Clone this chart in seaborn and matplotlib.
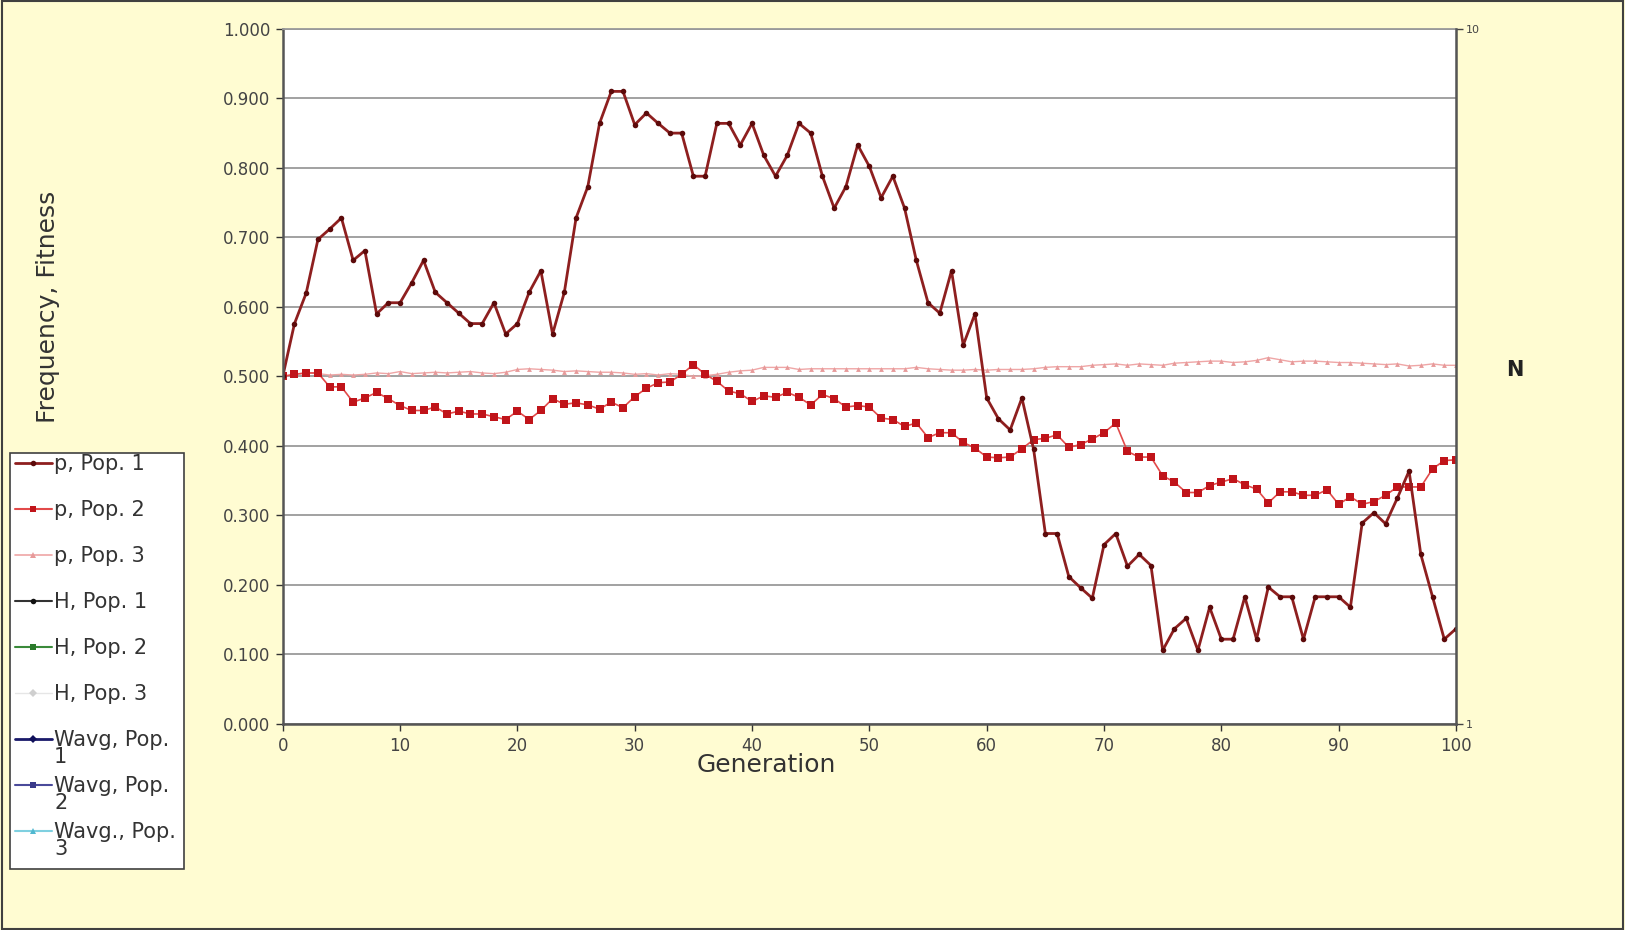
import numpy as np
import pandas as pd
import matplotlib
matplotlib.use("Agg")
import matplotlib.pyplot as plt
from matplotlib.lines import Line2D
from matplotlib.patches import Rectangle
import seaborn as sns

# Allele frequency per generation
generation = list(range(0, 101))

p_pop1 = [0.500, 0.576, 0.620, 0.697, 0.712, 0.728, 0.667, 0.681, 0.590, 0.606,
          0.606, 0.635, 0.667, 0.621, 0.606, 0.591, 0.576, 0.576, 0.606, 0.561,
          0.576, 0.621, 0.652, 0.561, 0.621, 0.728, 0.773, 0.864, 0.910, 0.910,
          0.862, 0.879, 0.864, 0.850, 0.850, 0.788, 0.788, 0.864, 0.864, 0.833,
          0.864, 0.818, 0.788, 0.818, 0.864, 0.850, 0.788, 0.742, 0.773, 0.833,
          0.802, 0.757, 0.788, 0.742, 0.667, 0.606, 0.591, 0.652, 0.545, 0.590,
          0.469, 0.439, 0.423, 0.469, 0.395, 0.274, 0.274, 0.212, 0.196, 0.181,
          0.258, 0.274, 0.227, 0.244, 0.228, 0.106, 0.137, 0.152, 0.106, 0.168,
          0.122, 0.122, 0.183, 0.122, 0.197, 0.183, 0.183, 0.122, 0.183, 0.183,
          0.183, 0.168, 0.289, 0.304, 0.288, 0.325, 0.364, 0.244, 0.183, 0.122,
          0.137]

p_pop2 = [0.500, 0.503, 0.505, 0.505, 0.485, 0.485, 0.463, 0.469, 0.477, 0.468,
          0.458, 0.451, 0.451, 0.456, 0.446, 0.450, 0.446, 0.446, 0.442, 0.438,
          0.450, 0.438, 0.451, 0.468, 0.460, 0.462, 0.459, 0.453, 0.463, 0.455,
          0.471, 0.483, 0.491, 0.492, 0.503, 0.517, 0.503, 0.493, 0.479, 0.475,
          0.464, 0.472, 0.470, 0.477, 0.470, 0.459, 0.474, 0.468, 0.456, 0.458,
          0.456, 0.440, 0.438, 0.428, 0.433, 0.412, 0.419, 0.419, 0.405, 0.397,
          0.384, 0.383, 0.384, 0.396, 0.409, 0.411, 0.416, 0.398, 0.402, 0.410,
          0.419, 0.433, 0.392, 0.384, 0.384, 0.357, 0.348, 0.333, 0.333, 0.343,
          0.348, 0.353, 0.344, 0.338, 0.318, 0.334, 0.334, 0.329, 0.329, 0.337,
          0.316, 0.327, 0.316, 0.320, 0.329, 0.341, 0.341, 0.341, 0.367, 0.379,
          0.380]

p_pop3 = [0.500, 0.503, 0.505, 0.504, 0.502, 0.503, 0.502, 0.503, 0.505, 0.504,
          0.507, 0.504, 0.505, 0.506, 0.505, 0.506, 0.507, 0.505, 0.504, 0.506,
          0.510, 0.511, 0.510, 0.509, 0.507, 0.508, 0.507, 0.506, 0.506, 0.505,
          0.503, 0.504, 0.502, 0.504, 0.503, 0.500, 0.501, 0.503, 0.506, 0.508,
          0.509, 0.513, 0.513, 0.513, 0.510, 0.511, 0.511, 0.511, 0.511, 0.511,
          0.511, 0.511, 0.511, 0.511, 0.513, 0.511, 0.510, 0.509, 0.509, 0.510,
          0.509, 0.510, 0.510, 0.510, 0.511, 0.513, 0.514, 0.514, 0.514, 0.516,
          0.517, 0.518, 0.516, 0.518, 0.517, 0.516, 0.519, 0.520, 0.521, 0.522,
          0.522, 0.520, 0.521, 0.523, 0.527, 0.524, 0.521, 0.522, 0.522, 0.521,
          0.520, 0.520, 0.519, 0.518, 0.517, 0.518, 0.515, 0.516, 0.518, 0.516,
          0.516]

y_ticks = [0.0, 0.1, 0.2, 0.3, 0.4, 0.5, 0.6, 0.7, 0.8, 0.9, 1.0]
x_ticks = [0, 10, 20, 30, 40, 50, 60, 70, 80, 90, 100]

legend_labels = ["p, Pop. 1", "p, Pop. 2", "p, Pop. 3", "H, Pop. 1", "H, Pop. 2", "H, Pop. 3",
                 "Wavg, Pop.", "Wavg, Pop.", "Wavg., Pop."]
# the last three labels wrap in the original, their second line is drawn separately
wrapped_tail = {6: "1", 7: "2", 8: "3"}

df = pd.DataFrame({"Generation": generation, "p1": p_pop1, "p2": p_pop2, "p3": p_pop3})

sns.set_style("white")
plt.rcParams["font.family"] = ["DejaVu Sans"]

bg = "#fffcd2"
fig = plt.figure(figsize=(16.25, 9.3), dpi=100, facecolor=bg)
ax = fig.add_axes([0.174, 0.2215, 0.722, 0.7475])
ax.set_facecolor("white")

# p, Pop. 3 first so it sits underneath
sns.lineplot(data=df, x="Generation", y="p3", ax=ax, color="#efa6a6", lw=1.0,
             marker="^", markersize=3.5, markeredgewidth=0, markerfacecolor="#e79a9a")
sns.lineplot(data=df, x="Generation", y="p2", ax=ax, color="#e24a4a", lw=1.2,
             marker="s", markersize=5.5, markeredgewidth=0, markerfacecolor="#c0141a")
sns.lineplot(data=df, x="Generation", y="p1", ax=ax, color="#8e1f1f", lw=2.0,
             marker="o", markersize=4, markeredgewidth=0, markerfacecolor="#5c0a0a")

ax.set_xlim(0, 100)
ax.set_ylim(0, 1)
ax.set_xticks(x_ticks)
ax.set_yticks(y_ticks)
ax.set_yticklabels([f"{v:.3f}" for v in y_ticks])
ax.tick_params(axis="both", labelsize=12, colors="#333333", direction="out",
               length=5, width=1, left=True, bottom=True, pad=4)
ax.tick_params(axis="x", labelcolor="#444444")
ax.tick_params(axis="y", labelcolor="#444444")
ax.yaxis.grid(True, color="#9a9a9a", lw=1.3)
ax.xaxis.grid(False)
for side in ["left", "bottom"]:
    ax.spines[side].set_color("#555555")
    ax.spines[side].set_linewidth(1.8)
ax.spines["top"].set_color("#9a9a9a")
ax.spines["top"].set_linewidth(1.3)

ax.set_xlabel("Generation", fontsize=18, color="#333333")
ax.xaxis.set_label_coords(0.412, -0.042)
ax.set_ylabel("Frequency, Fitness", fontsize=18, color="#333333")
ax.yaxis.set_label_coords(-0.19, 0.60)

# right log axis for N
ax2 = ax.twinx()
ax2.set_yscale("log")
ax2.set_ylim(1, 10)
ax2.set_yticks([1, 10])
ax2.set_yticklabels(["1", "10"])
ax2.minorticks_off()
ax2.tick_params(axis="y", labelsize=8, colors="#444444", length=5, width=1, pad=2)
ax2.spines["right"].set_color("#555555")
ax2.spines["right"].set_linewidth(1.8)
for side in ["left", "bottom", "top"]:
    ax2.spines[side].set_visible(False)
fig.text(0.932, 0.602, "N", fontsize=15, fontweight="bold", ha="center", va="center",
         color="#222222")

# legend, including the series with no plotted points
handles = [
    Line2D([], [], color="#8e1f1f", lw=2, marker="o", markersize=4, markerfacecolor="#5c0a0a", markeredgewidth=0),
    Line2D([], [], color="#e24a4a", lw=1.5, marker="s", markersize=5, markerfacecolor="#c0141a", markeredgewidth=0),
    Line2D([], [], color="#efa6a6", lw=1.2, marker="^", markersize=4, markerfacecolor="#e79a9a", markeredgewidth=0),
    Line2D([], [], color="#333333", lw=1.5, marker="o", markersize=4, markerfacecolor="#111111", markeredgewidth=0),
    Line2D([], [], color="#3a8a3a", lw=1.5, marker="s", markersize=4, markerfacecolor="#2a7a2a", markeredgewidth=0),
    Line2D([], [], color="#e6e6e6", lw=1.0, marker="D", markersize=4, markerfacecolor="#cfcfcf", markeredgewidth=0),
    Line2D([], [], color="#1a1a6a", lw=2, marker="D", markersize=4, markerfacecolor="#10105a", markeredgewidth=0),
    Line2D([], [], color="#4a4a9a", lw=1.5, marker="s", markersize=4, markerfacecolor="#3a3a8a", markeredgewidth=0),
    Line2D([], [], color="#7fd0e0", lw=1.5, marker="^", markersize=4, markerfacecolor="#50b8d0", markeredgewidth=0),
]

# legend box drawn by hand so it can hold the overflowing wrapped lines
fig.patches.append(Rectangle((0.0064, 0.066), 0.1071, 0.447, transform=fig.transFigure,
                             facecolor="white", edgecolor="#404040", lw=1.2, zorder=0))
leg = fig.legend(handles, legend_labels, loc="upper left", bbox_to_anchor=(0.0064, 0.5165),
                 fontsize=15, frameon=False, borderpad=0.2, labelspacing=1.25,
                 handlelength=1.8, handletextpad=0.1, borderaxespad=0)
for t in leg.get_texts():
    t.set_color("#333333")

fig.canvas.draw()
W, H = fig.bbox.width, fig.bbox.height
texts = leg.get_texts()
for i, tail in wrapped_tail.items():
    bb = texts[i].get_window_extent()
    fig.text(bb.x0 / W, (bb.y0 + 3) / H, tail, fontsize=15, color="#333333",
             ha="left", va="top")

fig.patches.append(Rectangle((0.001, 0.001), 0.998, 0.998, transform=fig.transFigure,
                             fill=False, edgecolor="#404040", lw=1.5))

fig.savefig("out.png", dpi=100, facecolor=bg)
